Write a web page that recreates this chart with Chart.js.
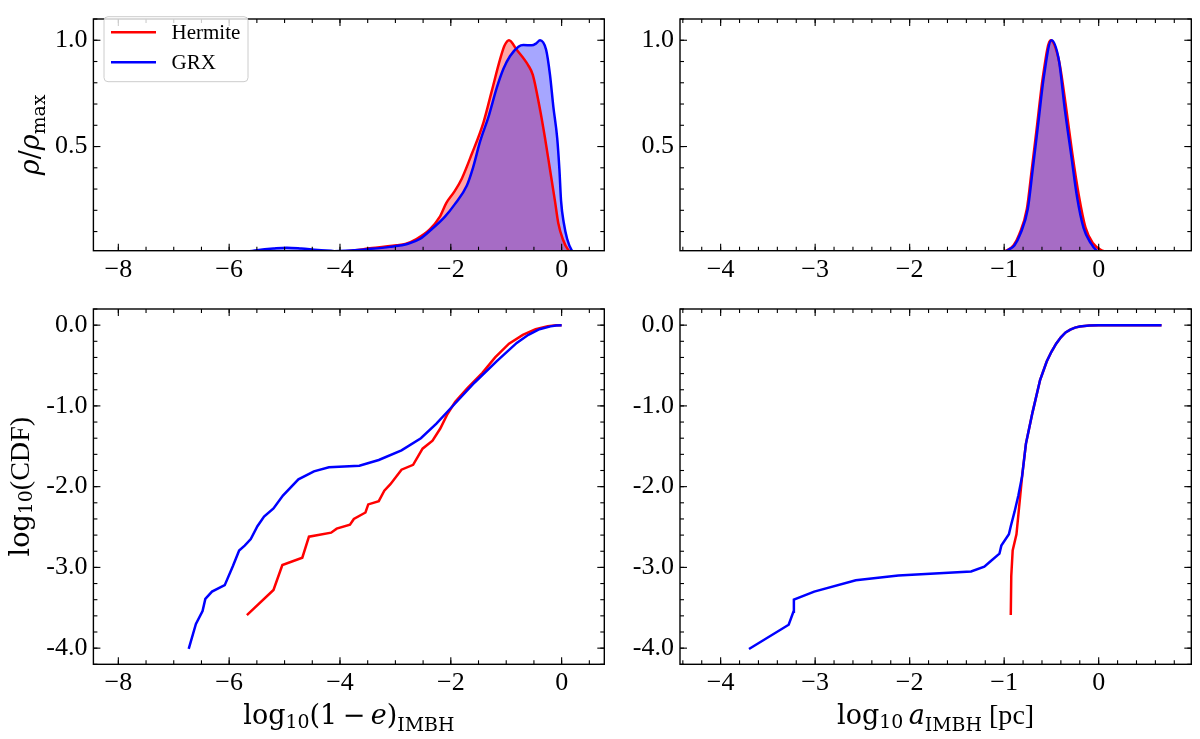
<!DOCTYPE html>
<html>
<head>
<meta charset="utf-8">
<script src="https://cdn.jsdelivr.net/npm/chart.js@4.4.0/dist/chart.umd.min.js"></script>
<style>
  body { margin: 0; background: #fff; width: 1200px; height: 739px; overflow: hidden; position: relative; }
  .panel { position: absolute; }
</style>
</head>
<body>
<div class="panel" style="left:0;top:0;width:620px;height:290px"><canvas id="ecc-kde"></canvas></div>
<div class="panel" style="left:620px;top:0;width:580px;height:290px"><canvas id="sma-kde"></canvas></div>
<div class="panel" style="left:0;top:290px;width:620px;height:449px"><canvas id="ecc-cdf"></canvas></div>
<div class="panel" style="left:620px;top:290px;width:580px;height:449px"><canvas id="sma-cdf"></canvas></div>
<script>
const FONT = '"Liberation Serif", "Times New Roman", serif';
const MATH_FONT = '"DejaVu Serif", serif';
const RED = '#ff0000';
const BLUE = '#0000ff';

// 目盛りラベル
const eccTicks = [-8, -6, -4, -2, 0];
const smaTicks = [-4, -3, -2, -1, 0];
const rhoTicks = [0.5, 1.0];
const cdfTicks = [0, -1, -2, -3, -4];

// 凡例
const seriesNames = ['Hermite', 'GRX'];

// log10(1-e) の密度 (rho/rho_max)
const eccHermiteX = [-4.3, -3.9, -3.46, -2.98, -2.82, -2.62, -2.38, -2.2, -2.08, -1.93, -1.8, -1.62, -1.41, -1.26, -1.11, -1.03, -0.95, -0.81, -0.6, -0.52, -0.4, -0.3, -0.21, -0.12, -0.06, 0.02, 0.12, 0.2];
const eccHermiteRho = [0.0, 0.008, 0.021, 0.036, 0.042, 0.065, 0.11, 0.169, 0.235, 0.29, 0.35, 0.466, 0.614, 0.762, 0.911, 0.975, 1.0, 0.955, 0.881, 0.837, 0.688, 0.54, 0.392, 0.243, 0.139, 0.065, 0.013, 0.0];
const eccGrxX = [-5.8, -5.5, -5.2, -4.96, -4.7, -4.4, -4.1, -3.8, -3.51, -3.1, -2.77, -2.56, -2.35, -2.11, -1.93, -1.71, -1.6, -1.47, -1.32, -1.17, -1.05, -0.93, -0.78, -0.69, -0.54, -0.46, -0.39, -0.28, -0.21, -0.15, -0.08, -0.04, -0.01, 0.04, 0.1, 0.18, 0.25];
const eccGrxRho = [0.0, 0.012, 0.02, 0.024, 0.02, 0.013, 0.008, 0.011, 0.017, 0.028, 0.043, 0.065, 0.11, 0.169, 0.228, 0.317, 0.4, 0.525, 0.64, 0.777, 0.866, 0.926, 0.97, 0.978, 0.976, 0.985, 1.0, 0.955, 0.837, 0.688, 0.54, 0.392, 0.243, 0.139, 0.065, 0.013, 0.0];

// log10 a の密度
const smaHermiteX = [-1.05, -0.98, -0.9, -0.84, -0.76, -0.71, -0.65, -0.59, -0.51, -0.42, -0.35, -0.28, -0.21, -0.14, -0.06, 0.03, 0.15];
const smaHermiteRho = [0.0, 0.01, 0.036, 0.088, 0.206, 0.384, 0.607, 0.829, 1.0, 0.903, 0.7, 0.47, 0.27, 0.12, 0.045, 0.012, 0.0];
const smaGrxX = [-1.0, -0.97, -0.89, -0.83, -0.75, -0.7, -0.64, -0.58, -0.5, -0.42, -0.36, -0.29, -0.23, -0.16, -0.08, -0.02, 0.05];
const smaGrxRho = [0.0, 0.01, 0.036, 0.088, 0.206, 0.384, 0.607, 0.829, 1.0, 0.903, 0.681, 0.458, 0.266, 0.117, 0.043, 0.01, 0.0];

// log10(CDF)
const eccCdfHermiteX = [-5.68, -5.2, -5.04, -4.68, -4.56, -4.16, -4.06, -3.82, -3.75, -3.54, -3.49, -3.3, -3.2, -3.09, -2.89, -2.68, -2.51, -2.33, -2.19, -2.06, -1.92, -1.7, -1.43, -1.2, -0.95, -0.7, -0.47, -0.25, -0.1, 0.0];
const eccCdfHermite = [-3.59, -3.28, -2.97, -2.88, -2.62, -2.57, -2.52, -2.47, -2.4, -2.32, -2.22, -2.18, -2.05, -1.97, -1.79, -1.73, -1.53, -1.43, -1.28, -1.1, -0.95, -0.78, -0.59, -0.4, -0.23, -0.12, -0.05, -0.012, -0.002, 0.0];
const eccCdfGrxX = [-6.73, -6.6, -6.48, -6.43, -6.31, -6.08, -5.93, -5.82, -5.72, -5.61, -5.49, -5.37, -5.2, -5.03, -4.75, -4.47, -4.2, -3.65, -3.3, -2.89, -2.54, -2.26, -1.99, -1.57, -1.16, -0.81, -0.6, -0.4, -0.2, -0.1, 0.0];
const eccCdfGrx = [-4.01, -3.7, -3.54, -3.39, -3.3, -3.22, -2.98, -2.79, -2.73, -2.65, -2.49, -2.37, -2.27, -2.11, -1.91, -1.81, -1.76, -1.74, -1.67, -1.55, -1.4, -1.22, -1.02, -0.71, -0.44, -0.22, -0.12, -0.05, -0.015, -0.004, 0.0];

const smaCdfHermiteX = [-0.93, -0.925, -0.91, -0.87, -0.83, -0.81, -0.77, -0.7, -0.62, -0.55, -0.5, -0.45, -0.4, -0.35, -0.3, -0.25, -0.2, -0.1, 0.0, 0.665];
const smaCdfHermite = [-3.59, -3.11, -2.79, -2.59, -2.11, -1.87, -1.47, -1.08, -0.68, -0.45, -0.33, -0.23, -0.15, -0.09, -0.055, -0.03, -0.016, -0.005, -0.001, 0.0];
const smaCdfGrxX = [-3.7, -3.28, -3.23, -3.225, -3.01, -2.57, -2.12, -1.35, -1.21, -1.15, -1.05, -1.03, -0.95, -0.93, -0.89, -0.85, -0.81, -0.77, -0.7, -0.62, -0.55, -0.5, -0.45, -0.4, -0.35, -0.3, -0.25, -0.2, -0.1, 0.0, 0.665];
const smaCdfGrx = [-4.01, -3.71, -3.55, -3.4, -3.3, -3.16, -3.1, -3.05, -2.99, -2.93, -2.83, -2.73, -2.59, -2.49, -2.31, -2.11, -1.87, -1.47, -1.08, -0.68, -0.45, -0.33, -0.23, -0.15, -0.09, -0.055, -0.03, -0.016, -0.005, -0.001, 0.0];

function xy(xs, ys) {
  return xs.map((x, i) => ({ x: x, y: ys[i] }));
}

// 軸ラベル (sub = 下付きの下げ幅, it = イタリック, tx = 本文フォント)
const eccTitle = [{ t: 'log' }, { t: '10', sub: 0.13 }, { t: '(1\u2009\u2212\u2009' }, { t: 'e', it: 1 }, { t: ')' }, { t: 'IMBH', sub: 0.25 }];
const smaTitle = [{ t: 'log' }, { t: '10', sub: 0.13 }, { t: '\u2009' }, { t: 'a', it: 1 }, { t: 'IMBH', sub: 0.25 }, { t: ' [pc]', tx: 1 }];
const rhoTitle = [{ t: '\u03c1', it: 1 }, { t: '/' }, { t: '\u03c1', it: 1 }, { t: 'max', sub: 0.2 }];
const cdfTitle = [{ t: 'log' }, { t: '10', sub: 0.13 }, { t: '(CDF)', tx: 1 }];

function segFont(s, size) {
  const sz = (s.tx ? size * 1.04 : size) * (s.sub ? 0.7 : 1);
  return (s.it ? 'italic ' : '') + sz + 'px ' + (s.tx ? FONT : MATH_FONT);
}

function drawRich(ctx, segs, cx, baseY, size) {
  let w = 0;
  segs.forEach(s => { ctx.font = segFont(s, size); w += ctx.measureText(s.t).width; });
  let x = cx - w / 2;
  segs.forEach(s => {
    ctx.font = segFont(s, size);
    ctx.fillText(s.t, x, baseY + (s.sub ? size * s.sub : 0));
    x += ctx.measureText(s.t).width;
  });
}

// 枠線・内向きの目盛り・軸ラベル・凡例を描くプラグイン
const framePlugin = {
  id: 'frame',
  afterDraw(chart, args, opts) {
    const ctx = chart.ctx;
    const a = chart.chartArea;
    const sx = chart.scales.x, sy = chart.scales.y;
    ctx.save();
    ctx.strokeStyle = '#000';
    ctx.lineWidth = 1.1;
    const seg = (x1, y1, x2, y2) => { ctx.beginPath(); ctx.moveTo(x1, y1); ctx.lineTo(x2, y2); ctx.stroke(); };
    const minors = (scale, step) => {
      const out = [];
      for (let k = Math.ceil(scale.min / step - 1e-9); k * step <= scale.max + 1e-9; k++) out.push(k * step);
      return out;
    };
    minors(sx, opts.xMinor).forEach(v => {
      const p = sx.getPixelForValue(v);
      seg(p, a.bottom, p, a.bottom - 4); seg(p, a.top, p, a.top + 4);
    });
    sx.ticks.forEach(t => {
      const p = sx.getPixelForValue(t.value);
      seg(p, a.bottom, p, a.bottom - 7); seg(p, a.top, p, a.top + 7);
    });
    minors(sy, opts.yMinor).forEach(v => {
      const p = sy.getPixelForValue(v);
      seg(a.left, p, a.left + 4, p); seg(a.right, p, a.right - 4, p);
    });
    sy.ticks.forEach(t => {
      const p = sy.getPixelForValue(t.value);
      seg(a.left, p, a.left + 7, p); seg(a.right, p, a.right - 7, p);
    });
    ctx.lineWidth = 1.4;
    ctx.strokeRect(a.left, a.top, a.right - a.left, a.bottom - a.top);

    ctx.fillStyle = '#000';
    ctx.textAlign = 'left';
    ctx.textBaseline = 'alphabetic';
    if (opts.xTitle) {
      drawRich(ctx, opts.xTitle, (a.left + a.right) / 2, a.bottom + opts.xTitleOffset, 27);
    }
    if (opts.yTitle) {
      ctx.save();
      ctx.translate(a.left + opts.yTitleOffset, (a.top + a.bottom) / 2);
      ctx.rotate(-Math.PI / 2);
      drawRich(ctx, opts.yTitle, 0, 0, 27);
      ctx.restore();
    }
    if (opts.legend) {
      const L = opts.legend;
      ctx.fillStyle = 'rgba(255,255,255,0.8)';
      ctx.strokeStyle = '#cccccc';
      ctx.lineWidth = 1;
      ctx.beginPath();
      ctx.roundRect(L.x, L.y, L.w, L.h, 4);
      ctx.fill();
      ctx.stroke();
      const items = chart.data.datasets.filter(d => d.fill === false && d.label);
      items.sort((p, q) => seriesNames.indexOf(p.label) - seriesNames.indexOf(q.label));
      items.forEach((d, i) => {
        const yy = L.y + 15.6 + i * 30;
        ctx.strokeStyle = d.borderColor;
        ctx.lineWidth = 2.5;
        seg(L.x + 7, yy, L.x + 52, yy);
        ctx.fillStyle = '#000';
        ctx.font = '21px ' + FONT;
        ctx.textBaseline = 'middle';
        ctx.fillText(d.label, L.x + 67.5, yy + 1);
      });
    }
    ctx.restore();
  }
};

function lineSet(label, color, data, order, smooth) {
  return {
    label: label, data: data, borderColor: color, borderWidth: 2.5, fill: false,
    pointRadius: 0, order: order,
    cubicInterpolationMode: smooth ? 'monotone' : 'default', tension: 0
  };
}

function fillSet(color, data, order) {
  return {
    label: '', data: data, borderWidth: 0, borderColor: 'rgba(0,0,0,0)', backgroundColor: color,
    fill: 'origin', pointRadius: 0, order: order, cubicInterpolationMode: 'monotone'
  };
}

function makePanel(id, cfg) {
  const tickFont = { family: FONT, size: 26, lineHeight: 1 };
  return new Chart(document.getElementById(id), {
    type: 'line',
    data: { datasets: cfg.datasets },
    options: {
      responsive: true,
      maintainAspectRatio: false,
      animation: false,
      layout: { padding: { top: cfg.padTop, right: cfg.padRight, left: 0, bottom: 0 } },
      scales: {
        x: {
          type: 'linear', min: cfg.xMin, max: cfg.xMax,
          grid: { display: false, drawTicks: false }, border: { display: false },
          afterBuildTicks: s => { s.ticks = cfg.xTicks.map(v => ({ value: v })); },
          afterFit: s => { s.height = cfg.xAxisH; },
          ticks: {
            font: tickFont, color: '#000', padding: 6, autoSkip: false, maxRotation: 0,
            callback: v => (v < 0 ? '\u2212' + Math.abs(v) : String(v))
          }
        },
        y: {
          type: 'linear', min: cfg.yMin, max: cfg.yMax,
          grid: { display: false, drawTicks: false }, border: { display: false },
          afterBuildTicks: s => { s.ticks = cfg.yTicks.map(v => ({ value: v })); },
          afterFit: s => { s.width = cfg.yAxisW; },
          ticks: {
            font: tickFont, color: '#000', padding: 6, autoSkip: false,
            callback: v => v.toFixed(1)
          }
        }
      },
      plugins: {
        legend: { display: false },
        tooltip: { enabled: false },
        frame: cfg.frame
      }
    },
    plugins: [framePlugin]
  });
}

// 左上: 離心率の密度
makePanel('ecc-kde', {
  datasets: [
    lineSet(seriesNames[1], BLUE, xy(eccGrxX, eccGrxRho), 1, true),
    lineSet(seriesNames[0], RED, xy(eccHermiteX, eccHermiteRho), 2, true),
    fillSet('rgba(0,0,255,0.35)', xy(eccGrxX, eccGrxRho), 3),
    fillSet('rgba(255,0,0,0.35)', xy(eccHermiteX, eccHermiteRho), 4)
  ],
  xMin: -8.45, xMax: 0.77, yMin: 0.01, yMax: 1.1,
  xTicks: eccTicks, yTicks: rhoTicks,
  padTop: 5.7, padRight: 15.7, yAxisW: 93.4, xAxisH: 39.3,
  frame: { xMinor: 0.5, yMinor: 0.1, yTitle: rhoTitle, yTitleOffset: -54, legend: { x: 104, y: 16.7, w: 144, h: 65 } }
});

// 右上: 軌道長半径の密度
makePanel('sma-kde', {
  datasets: [
    lineSet(seriesNames[1], BLUE, xy(smaGrxX, smaGrxRho), 1, true),
    lineSet(seriesNames[0], RED, xy(smaHermiteX, smaHermiteRho), 2, true),
    fillSet('rgba(0,0,255,0.35)', xy(smaGrxX, smaGrxRho), 3),
    fillSet('rgba(255,0,0,0.35)', xy(smaHermiteX, smaHermiteRho), 4)
  ],
  xMin: -4.43, xMax: 0.98, yMin: 0.01, yMax: 1.1,
  xTicks: smaTicks, yTicks: rhoTicks,
  padTop: 5.7, padRight: 8.7, yAxisW: 60, xAxisH: 39.3,
  frame: { xMinor: 0.2, yMinor: 0.1 }
});

// 左下: 離心率の累積分布
makePanel('ecc-cdf', {
  datasets: [
    lineSet(seriesNames[1], BLUE, xy(eccCdfGrxX, eccCdfGrx), 1, false),
    lineSet(seriesNames[0], RED, xy(eccCdfHermiteX, eccCdfHermite), 2, false)
  ],
  xMin: -8.45, xMax: 0.77, yMin: -4.2, yMax: 0.2,
  xTicks: eccTicks, yTicks: cdfTicks,
  padTop: 6.7, padRight: 15.7, yAxisW: 93.4, xAxisH: 74.7,
  frame: { xMinor: 0.5, yMinor: 0.2, xTitle: eccTitle, xTitleOffset: 60, yTitle: cdfTitle, yTitleOffset: -64.5 }
});

// 右下: 軌道長半径の累積分布
makePanel('sma-cdf', {
  datasets: [
    lineSet(seriesNames[1], BLUE, xy(smaCdfGrxX, smaCdfGrx), 1, false),
    lineSet(seriesNames[0], RED, xy(smaCdfHermiteX, smaCdfHermite), 2, false)
  ],
  xMin: -4.43, xMax: 0.98, yMin: -4.2, yMax: 0.2,
  xTicks: smaTicks, yTicks: cdfTicks,
  padTop: 6.7, padRight: 8.7, yAxisW: 60, xAxisH: 74.7,
  frame: { xMinor: 0.2, yMinor: 0.2, xTitle: smaTitle, xTitleOffset: 60 }
});
</script>
</body>
</html>
